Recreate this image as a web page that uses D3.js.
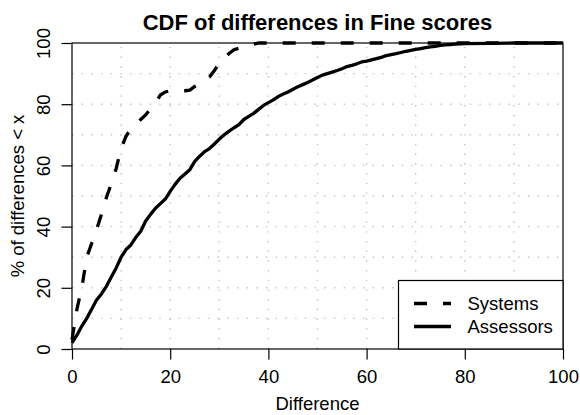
<!DOCTYPE html>
<html>
<head>
<meta charset="utf-8">
<script src="https://cdn.jsdelivr.net/npm/d3@7"></script>
<style>
  html, body { margin: 0; padding: 0; background: #fff; }
  svg { display: block; font-family: "Liberation Sans", Arial, Helvetica, sans-serif; }
</style>
</head>
<body>
<svg id="chart" width="580" height="415"></svg>
<script>
// CDF of differences — Systems (dashed) vs Assessors (solid)
const sysX = [0, 1, 2, 3, 4, 5, 6, 7, 8, 9, 10, 11, 12, 13, 14, 15, 16, 17, 18, 19,
  20, 21, 22, 23, 24, 25, 26, 27, 28, 29, 30, 31, 32, 33, 34, 35, 36, 37, 38, 100];
const sysY = [3, 13, 20, 30, 34.5, 39, 44, 49.5, 54, 59, 65.5, 69.5, 72, 73.5, 75, 76.5,
  78.5, 80.5, 83, 84, 84.4, 84.4, 84.4, 84.4, 84.6, 85.8, 86.6, 87.8, 88.9, 91, 93.5,
  95, 96.6, 97.8, 98.3, 98.6, 99, 99.6, 100, 100];

const assX = [0, 1, 2, 3, 4, 5, 6, 7, 8, 9, 10, 11, 12, 13, 14, 15, 16, 17, 18, 19,
  20, 21, 22, 23, 24, 25, 26, 27, 28, 29, 30, 31, 32, 33, 34, 35, 36, 37, 38, 39,
  40, 41, 42, 43, 44, 45, 46, 47, 48, 49, 50, 51, 52, 53, 54, 55, 56, 57, 58, 59,
  60, 61, 62, 63, 64, 65, 66, 67, 68, 69, 70, 71, 72, 73, 74, 75, 76, 77, 78, 79,
  80, 85, 90, 100];
const assY = [2, 4.5, 7.5, 10, 13, 16, 18, 20.5, 23.5, 26.5, 30, 32.5, 34, 36.5, 38.5,
  41.8, 44, 46, 47.5, 49, 51.5, 53.8, 55.8, 57.2, 58.6, 61.3, 63, 64.5, 65.5, 67,
  68.6, 70, 71.2, 72.3, 73.3, 75, 76, 77, 78.3, 79.6, 80.5, 81.4, 82.5, 83.3, 84,
  84.9, 85.7, 86.4, 87.1, 87.9, 88.7, 89.5, 90, 90.5, 91, 91.6, 92.3, 92.7, 93.2,
  93.8, 94.1, 94.5, 94.9, 95.3, 95.9, 96.2, 96.5, 96.9, 97.3, 97.6, 97.9, 98.2,
  98.5, 98.7, 98.9, 99.2, 99.4, 99.5, 99.6, 99.7, 99.8, 99.9, 100, 100];

const xTicks = [0, 20, 40, 60, 80, 100];
const yTicks = [0, 20, 40, 60, 80, 100];
const gridVals = [10, 20, 30, 40, 50, 60, 70, 80, 90];
const legendLabels = ["Systems", "Assessors"];

const svg = d3.select("#chart");
const pL = 72, pR = 563, pT = 43, pB = 349;
const FS = 18.5;

const x = d3.scaleLinear().domain([0, 100]).range([pL, pR]);
const y = d3.scaleLinear().domain([0, 100]).range([pB, pT]);

// grid (dotted)
const grid = svg.append("g")
  .attr("stroke", "#c4c4c4")
  .attr("stroke-width", 1.4)
  .attr("stroke-dasharray", "1.4,8.3");
grid.selectAll("line.v").data(gridVals).join("line")
  .attr("class", "v")
  .attr("x1", d => x(d)).attr("x2", d => x(d))
  .attr("y1", pB).attr("y2", pT);
grid.selectAll("line.h").data(gridVals).join("line")
  .attr("class", "h")
  .attr("y1", d => y(d)).attr("y2", d => y(d))
  .attr("x1", pL).attr("x2", pR);

// axes
const xAxis = svg.append("g")
  .attr("transform", `translate(0,${pB})`)
  .call(d3.axisBottom(x).tickValues(xTicks).tickSize(10.5).tickFormat(d3.format("d")));
const yAxis = svg.append("g")
  .attr("transform", `translate(${pL},0)`)
  .call(d3.axisLeft(y).tickValues(yTicks).tickSize(10.5).tickFormat(d3.format("d")));

[xAxis, yAxis].forEach(a => {
  a.select(".domain").remove();
  a.selectAll("line").attr("stroke", "#000").attr("stroke-width", 1.2);
  a.selectAll("text").attr("font-size", FS).attr("fill", "#000")
    .attr("font-family", "'Liberation Sans', Arial, sans-serif");
});
xAxis.selectAll("text").attr("dy", null).attr("y", 34);
yAxis.selectAll("text")
  .attr("x", 0).attr("y", 0).attr("dy", null)
  .attr("text-anchor", "middle")
  .attr("transform", `translate(${50 - pL},0) rotate(-90)`);

// box
svg.append("rect")
  .attr("x", pL).attr("y", pT)
  .attr("width", pR - pL).attr("height", pB - pT)
  .attr("fill", "none").attr("stroke", "#000").attr("stroke-width", 1.2);

// curves
const line = d3.line().x(d => x(d[0])).y(d => y(d[1]));
svg.append("path")
  .datum(sysX.map((v, i) => [v, sysY[i]]))
  .attr("d", line)
  .attr("fill", "none").attr("stroke", "#000")
  .attr("stroke-width", 3.3)
  .attr("stroke-dasharray", "13,16");
svg.append("path")
  .datum(assX.map((v, i) => [v, assY[i]]))
  .attr("d", line)
  .attr("fill", "none").attr("stroke", "#000")
  .attr("stroke-width", 3.3)
  .attr("stroke-linejoin", "round");

// legend
const legX = 398.5, legY = 280.5;
const leg = svg.append("g");
leg.append("rect")
  .attr("x", legX).attr("y", legY)
  .attr("width", pR - legX).attr("height", pB - legY)
  .attr("fill", "#fff").attr("stroke", "#000").attr("stroke-width", 1.2);
const rows = [
  { label: legendLabels[0], dash: "13,16", ly: 303.5 },
  { label: legendLabels[1], dash: null, ly: 326.5 },
];
rows.forEach(r => {
  leg.append("line")
    .attr("x1", 414).attr("x2", 451)
    .attr("y1", r.ly).attr("y2", r.ly)
    .attr("stroke", "#000").attr("stroke-width", 3.3)
    .attr("stroke-dasharray", r.dash);
  leg.append("text")
    .attr("x", 467.5).attr("y", r.ly + 6.3)
    .attr("font-size", FS)
    .text(r.label);
});

// titles
svg.append("text")
  .attr("x", (pL + pR) / 2).attr("y", 30)
  .attr("text-anchor", "middle")
  .attr("font-size", 22).attr("font-weight", "bold")
  .text("CDF of differences in Fine scores");
svg.append("text")
  .attr("x", (pL + pR) / 2).attr("y", 410)
  .attr("text-anchor", "middle")
  .attr("font-size", FS)
  .text("Difference");
svg.append("text")
  .attr("transform", `translate(24,${(pT + pB) / 2}) rotate(-90)`)
  .attr("text-anchor", "middle")
  .attr("font-size", FS)
  .text("% of differences < x");
</script>
</body>
</html>
